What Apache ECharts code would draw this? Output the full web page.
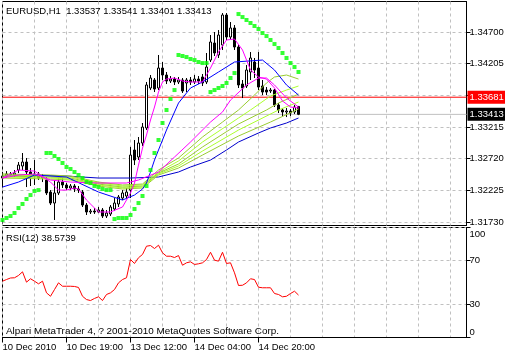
<!DOCTYPE html>
<html><head><meta charset="utf-8">
<script src="https://cdn.jsdelivr.net/npm/echarts@6/dist/echarts.min.js"></script>
<style>html,body{margin:0;padding:0;background:#fff}#c{width:505px;height:355px}</style>
</head><body><div id="c"></div>
<script>
const symbolName = 'EURUSD,H1';
const footerText = 'Alpari MetaTrader 4, ? 2001-2010 MetaQuotes Software Corp.';
const tickLabels = ['10 Dec 2010', '10 Dec 19:00', '13 Dec 12:00', '14 Dec 04:00', '14 Dec 20:00'];
const totalSlots = 117;

const opens = [1.32418,1.32449,1.32481,1.32465,1.32543,1.32606,1.32668,1.32512,1.32449,1.32481,
1.32418,1.32387,1.32199,1.32027,1.32184,1.32355,1.32309,1.32262,1.32293,1.32246,
1.32199,1.31996,1.31887,1.31902,1.31887,1.31918,1.31824,1.31856,1.31934,1.32012,
1.32105,1.32137,1.32230,1.32856,1.32746,1.32965,1.33200,1.33825,1.33950,1.33825,
1.34137,1.34028,1.33934,1.33965,1.33919,1.33950,1.33903,1.33950,1.33919,1.33965,
1.33997,1.33919,1.34262,1.34528,1.34341,1.34497,1.34966,1.34622,1.34763,1.34466,
1.33887,1.33856,1.34075,1.34231,1.34137,1.33856,1.33793,1.33778,1.33793,1.33559,
1.33481,1.33450,1.33465,1.33450,1.33537];
const closes = [1.32449,1.32481,1.32465,1.32496,1.32621,1.32668,1.32512,1.32449,1.32481,1.32418,
1.32434,1.32184,1.32027,1.32184,1.32355,1.32309,1.32262,1.32293,1.32246,1.32230,
1.31996,1.31887,1.31902,1.31887,1.31918,1.31824,1.31871,1.31965,1.32027,1.32121,
1.32184,1.32199,1.32777,1.32699,1.32965,1.33215,1.33872,1.33981,1.33809,1.34137,
1.34028,1.33934,1.33965,1.33919,1.33950,1.33778,1.33950,1.33919,1.33965,1.33934,
1.33903,1.34153,1.34544,1.34372,1.34653,1.34966,1.34622,1.34763,1.34466,1.33872,
1.33825,1.34106,1.34294,1.34106,1.33840,1.33762,1.33762,1.33793,1.33559,1.33481,
1.33450,1.33465,1.33434,1.33528,1.33413];
const highs = [1.32512,1.32527,1.32512,1.32543,1.32668,1.32809,1.32731,1.32574,1.32699,1.32512,
1.32481,1.32434,1.32230,1.32387,1.32418,1.32418,1.32340,1.32324,1.32324,1.32293,
1.32230,1.32027,1.31934,1.31949,1.31965,1.31949,1.31918,1.31996,1.32105,1.32152,
1.32230,1.32262,1.32903,1.33012,1.33059,1.33278,1.33919,1.34028,1.33981,1.34341,
1.34231,1.34075,1.34012,1.33997,1.33997,1.33981,1.33981,1.33997,1.34028,1.34012,
1.34044,1.34372,1.34653,1.34700,1.34731,1.34997,1.34997,1.34856,1.34809,1.34497,
1.33950,1.34184,1.34387,1.34294,1.34387,1.33950,1.33840,1.33825,1.33809,1.33590,
1.33512,1.33512,1.33497,1.33559,1.33541];
const lows = [1.32309,1.32418,1.32434,1.32434,1.32496,1.32543,1.32277,1.32293,1.32309,1.32387,
1.32355,1.32152,1.31996,1.31762,1.32152,1.32262,1.32230,1.32230,1.32199,1.32184,
1.31965,1.31840,1.31856,1.31856,1.31871,1.31793,1.31793,1.31824,1.31902,1.31965,
1.32074,1.32105,1.32105,1.32621,1.32699,1.32918,1.33168,1.33793,1.33762,1.33793,
1.33950,1.33887,1.33903,1.33872,1.33887,1.33747,1.33762,1.33872,1.33887,1.33887,
1.33856,1.33887,1.34231,1.34325,1.34294,1.34419,1.34575,1.34575,1.34419,1.33825,
1.33668,1.33825,1.33950,1.33981,1.33793,1.33715,1.33715,1.33747,1.33528,1.33434,
1.33387,1.33371,1.33387,1.33418,1.33401];

const sar = [1.31762,1.31793,1.31824,1.31871,1.31949,1.32012,1.32090,1.32152,1.32215,1.32230,
null,1.32809,1.32809,1.32762,1.32715,1.32653,1.32590,1.32559,1.32512,1.32465,
1.32418,1.32355,1.32340,1.32293,1.32277,1.32246,1.32230,1.32230,1.31777,1.31793,
1.31793,1.31793,1.31840,1.31934,1.32027,1.32137,1.32293,1.32543,1.32809,1.33012,
1.33278,1.33481,1.33653,1.33793,1.34341,1.34325,1.34309,1.34278,1.34262,1.34231,
1.34215,1.34215,1.33762,1.33793,1.33825,1.33856,1.33903,1.33981,1.34059,1.34981,
1.34934,1.34888,1.34841,1.34794,1.34747,1.34684,1.34637,1.34575,1.34512,1.34450,
1.34372,1.34294,1.34215,1.34153,1.34075];

const rsi = [51.2,52.7,54.1,54.3,56.4,59.7,50.3,53.4,51.2,48.8,
51.2,40.6,37.5,43.6,49.7,46.6,46.6,46.6,46.4,45.5,
37.5,34.5,33.6,35.5,37.0,33.6,39.1,40.6,43.6,49.7,
52.7,54.3,70.9,67.3,72.5,75.5,83.0,83.6,80.9,83.9,
77.0,73.9,73.9,72.7,74.5,65.7,67.9,68.8,66.4,67.0,
67.9,70.9,77.5,70.3,69.4,77.5,67.3,67.9,58.8,47.3,
47.5,49.7,53.4,52.7,45.7,45.2,45.2,45.2,40.0,39.1,
37.0,37.5,40.0,42.1,38.5739];

// moving averages: [bar index, price] read at key bars
const maFast = [[0,1.32418],[4,1.32543],[8,1.32527],[12,1.32355],[14,1.32230],[16,1.32230],[18,1.32262],[19,1.32246],[21,1.32074],[24,1.31887],[27,1.31887],[30,1.31965],[32,1.32184],[33,1.32340],[34,1.32621],[35,1.32887],[36,1.33090],[37,1.33325],[38,1.33528],[39,1.33762],[40,1.33919],[41,1.33965],[43,1.33981],[45,1.33934],[47,1.33919],[50,1.33919],[52,1.34137],[54,1.34387],[56,1.34575],[58,1.34591],[60,1.34419],[62,1.34106],[64,1.33997],[66,1.33965],[68,1.33825],[70,1.33622],[72,1.33528],[74,1.33512]];
const maMid = [[0,1.32418],[4,1.32465],[8,1.32481],[12,1.32387],[17,1.32355],[24,1.32340],[31,1.32340],[34,1.32387],[39,1.32512],[43,1.32746],[47,1.32981],[52,1.33293],[55,1.33450],[57,1.33637],[61,1.33872],[64,1.33981],[66,1.33981],[68,1.33872],[71,1.33668],[74,1.33528]];
const maBlueA = [[0,1.32277],[4,1.32355],[8,1.32465],[16,1.32434],[24,1.32199],[30,1.32074],[33,1.32152],[35,1.32246],[36,1.32340],[37,1.32512],[38,1.32699],[39,1.32856],[41,1.33168],[44,1.33590],[47,1.33825],[50,1.33919],[54,1.34075],[58,1.34231],[65,1.34262],[68,1.34106],[71,1.33872],[74,1.33715]];
const maBlueB = [[0,1.32449],[8,1.32465],[16,1.32449],[24,1.32418],[32,1.32418],[39,1.32434],[44,1.32512],[47,1.32590],[52,1.32699],[56,1.32856],[59,1.32981],[64,1.33122],[67,1.33200],[71,1.33278],[74,1.33356]];
const maG1 = [[0,1.32481],[12,1.32465],[17,1.32449],[24,1.32355],[30,1.32309],[35,1.32324],[39,1.32543],[44,1.32731],[50,1.33059],[55,1.33293],[59,1.33481],[63,1.33715],[66,1.33903],[68,1.33997],[71,1.34028],[74,1.33965]];
const maG2 = [[0,1.32465],[12,1.32449],[17,1.32434],[24,1.32340],[30,1.32293],[35,1.32309],[39,1.32512],[44,1.32684],[50,1.32981],[59,1.33356],[62,1.33481],[67,1.33700],[71,1.33793],[74,1.33856]];
const maG3 = [[0,1.32449],[12,1.32434],[17,1.32418],[24,1.32324],[30,1.32277],[35,1.32293],[39,1.32496],[44,1.32637],[50,1.32903],[59,1.33262],[66,1.33481],[69,1.33590],[74,1.33731]];
const maG4 = [[0,1.32434],[12,1.32418],[17,1.32402],[24,1.32309],[30,1.32262],[35,1.32277],[39,1.32481],[44,1.32606],[50,1.32840],[59,1.33168],[69,1.33481],[74,1.33606]];
const maG5 = [[0,1.32418],[12,1.32402],[17,1.32387],[24,1.32293],[30,1.32246],[35,1.32262],[39,1.32465],[44,1.32574],[50,1.32777],[59,1.33075],[67,1.33293],[74,1.33497]];

const priceTicks = [1.31730, 1.32225, 1.32720, 1.33215, 1.33710, 1.34205, 1.34700];
const priceLabelTicks = [1.31730, 1.32225, 1.32720, 1.33215, 1.34205, 1.34700];
const rsiLevels = [0, 30, 70, 100];
const levelLine = 1.33681;
const priceMin = 1.31676, priceMax = 1.35177;

const FONT = 'Liberation Sans';
const slots = Array.from({length: totalSlots}, (_, i) => String(i));
const gridLine = {color: '#c0c0c0', type: [3, 3], width: 1};
const last = closes.length - 1;
const candles = opens.map((o, i) => [o, closes[i], lows[i], highs[i]]);
const sarPoints = sar.map((v, i) => [i, v]).filter(p => p[1] !== null);
const labelTick = i => i % 16 === 0 && i / 16 < tickLabels.length;
const txt = (size) => ({fontSize: size, fontWeight: 'normal', color: '#000', fontFamily: FONT});

// horizontal price level spanning the whole axis, with its value boxed on the price scale
function level(value, lineColor, boxColor, z) {
  return {type: 'line', xAxisIndex: 0, yAxisIndex: 0, z, silent: true, symbol: 'none', showSymbol: false,
    data: [[0, value], [totalSlots - 1, value]],
    lineStyle: {color: lineColor, width: 1, type: 'solid'},
    endLabel: {show: true, distance: 1, formatter: () => value.toFixed(5), backgroundColor: boxColor,
      color: '#fff', padding: [2, 3, 1, 2], fontSize: 9.5, fontFamily: FONT}};
}

function ma(data, color) {
  return {type: 'line', xAxisIndex: 0, yAxisIndex: 0, data, symbol: 'none', showSymbol: false,
    lineStyle: {color, width: 1}, z: 3, silent: true};
}

const chart = echarts.init(document.getElementById('c'));
chart.setOption({
  animation: false,
  backgroundColor: '#fff',
  textStyle: {fontFamily: FONT},
  title: [
    {text: symbolName + '  ' + opens[last].toFixed(5) + ' ' + highs[last].toFixed(5) + ' ' + lows[last].toFixed(5) + ' ' + closes[last].toFixed(5),
     left: 6, top: 6, padding: 0, textStyle: txt(9.5)},
    {text: 'RSI(12) ' + rsi[last], left: 6, top: 233, padding: 0, textStyle: txt(9.5)},
    {text: footerText, left: 6, top: 326, padding: 0, textStyle: txt(9.9)}
  ],
  grid: [
    {left: 2.5, right: 38.5, top: 1.5, height: 224, show: true, borderColor: '#000', borderWidth: 1, outerBoundsMode: 'none'},
    {left: 2.5, right: 38.5, top: 227.5, height: 110, show: true, borderColor: '#000', borderWidth: 1, outerBoundsMode: 'none'}
  ],
  xAxis: [
    {type: 'category', gridIndex: 0, data: slots, boundaryGap: false,
     axisLine: {show: false}, axisTick: {show: false}, axisLabel: {show: false},
     splitLine: {show: true, interval: i => i % 8 === 0, lineStyle: gridLine}},
    {type: 'category', gridIndex: 1, data: slots, boundaryGap: false,
     axisLine: {show: true, lineStyle: {color: '#000'}},
     axisTick: {show: true, length: 5, interval: labelTick, lineStyle: {color: '#000'}},
     axisLabel: {interval: labelTick, formatter: (v, i) => tickLabels[i / 16] || '', align: 'left', margin: 5,
       fontSize: 9.5, color: '#000', fontFamily: FONT},
     splitLine: {show: true, interval: i => i % 8 === 0, lineStyle: gridLine}}
  ],
  yAxis: [
    {type: 'value', gridIndex: 0, position: 'right', min: priceMin, max: priceMax,
     axisLine: {show: true, lineStyle: {color: '#000'}},
     axisTick: {show: true, length: 4, customValues: priceTicks, lineStyle: {color: '#000'}},
     axisLabel: {customValues: priceLabelTicks, formatter: v => v.toFixed(5), margin: 3, fontSize: 9.5, color: '#000', fontFamily: FONT},
     splitLine: {show: true, lineStyle: gridLine}},
    {type: 'value', gridIndex: 1, position: 'right', min: 0, max: 100,
     axisLine: {show: true, lineStyle: {color: '#000'}},
     axisTick: {show: true, length: 4, customValues: rsiLevels, lineStyle: {color: '#000'}},
     axisLabel: {customValues: rsiLevels, margin: 3, color: '#000', fontSize: 9.5, fontFamily: FONT,
       formatter: v => v === 100 ? '{t|100}' : v === 0 ? '{b|0}' : '{n|' + v + '}',
       rich: {t: {fontSize: 9.5, color: '#000', fontFamily: FONT, padding: [13, 0, 0, 0]},
              b: {fontSize: 9.5, color: '#000', fontFamily: FONT, padding: [0, 0, 11, 0]},
              n: {fontSize: 9.5, color: '#000', fontFamily: FONT}}},
     splitLine: {show: true, lineStyle: gridLine}}
  ],
  series: [
    level(closes[last], '#c0c0c0', '#000', 1),
    level(levelLine, '#ff0000', '#ff0000', 1),
    {type: 'candlestick', xAxisIndex: 0, yAxisIndex: 0, data: candles, barWidth: 2, silent: true, z: 2,
     itemStyle: {color: '#fff', color0: '#000', borderColor: '#000', borderColor0: '#000', borderWidth: 1}},
    ma(maBlueB, '#0000cd'),
    ma(maG5, '#9acd32'),
    ma(maG4, '#adff2f'),
    ma(maG3, '#9acd32'),
    ma(maG2, '#adff2f'),
    ma(maG1, '#9acd32'),
    ma(maBlueA, '#0000ff'),
    ma(maMid, '#ff00ff'),
    ma(maFast, '#ff00ff'),
    {type: 'scatter', xAxisIndex: 0, yAxisIndex: 0, data: sarPoints, symbol: 'rect', symbolSize: 4,
     itemStyle: {color: '#00ff00'}, z: 4, silent: true},
    {type: 'line', xAxisIndex: 1, yAxisIndex: 1, data: rsi, symbol: 'none', showSymbol: false,
     lineStyle: {color: '#ff0000', width: 1}, silent: true}
  ]
});
</script>
</body></html>
